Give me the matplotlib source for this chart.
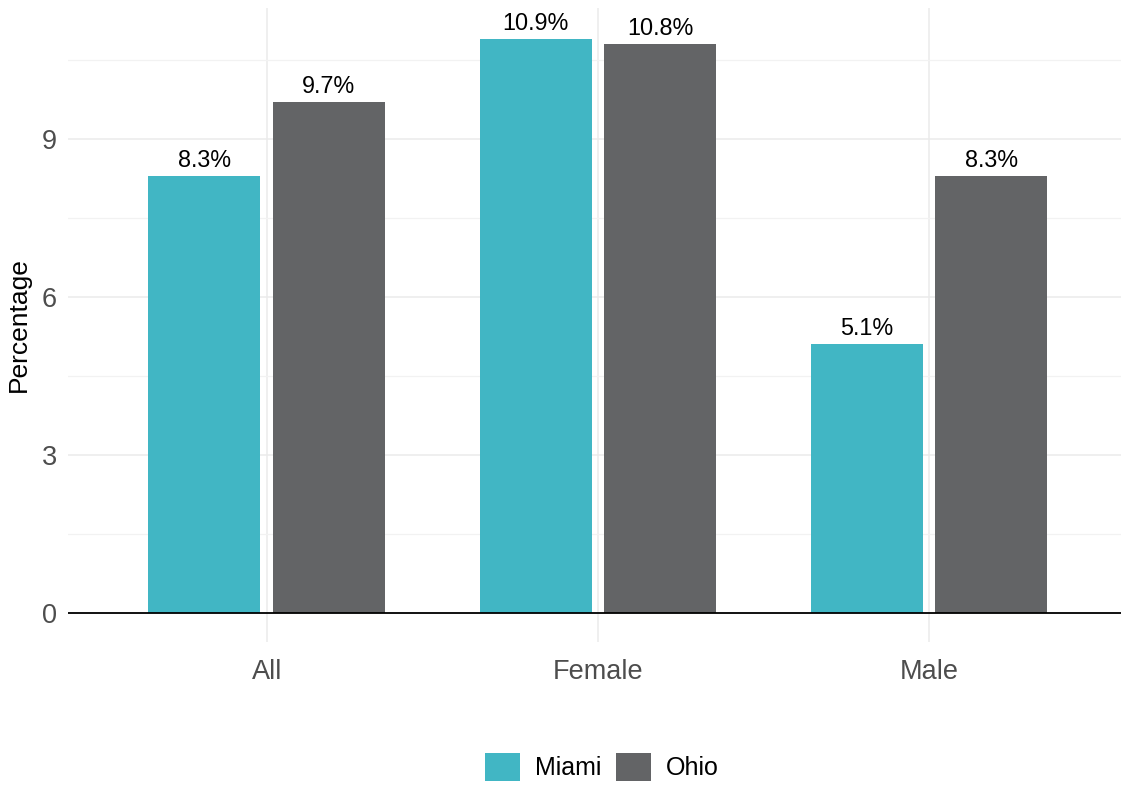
import numpy as np
import matplotlib.pyplot as plt
from matplotlib.patches import Patch

plt.rcParams['font.family'] = ['Liberation Sans', 'DejaVu Sans']

categories = ['All', 'Female', 'Male']
miami = [8.3, 10.9, 5.1]
ohio = [9.7, 10.8, 8.3]
series_names = ['Miami', 'Ohio']
colors = ['#41b6c4', '#636466']

fig = plt.figure(figsize=(11.21, 7.85), dpi=100)
ax = fig.add_axes([68/1121, 1-642/785, 1-68/1121, (642-8)/785])

x = np.arange(len(categories))
w = 0.338
off = 0.188
ax.bar(x - off, miami, w, color=colors[0], zorder=3)
ax.bar(x + off, ohio, w, color=colors[1], zorder=3)

for xi, v in zip(x - off, miami):
    ax.text(xi, v + 0.08, f'{v:.1f}%', ha='center', va='bottom', fontsize=16.8, color='black', zorder=4)
for xi, v in zip(x + off, ohio):
    ax.text(xi, v + 0.08, f'{v:.1f}%', ha='center', va='bottom', fontsize=16.8, color='black', zorder=4)

ax.set_xlim(-0.6, 2.58)
ax.set_ylim(-0.55, 11.49)
ax.axhline(0, color='black', lw=1.3, zorder=5)

ax.set_yticks([0, 3, 6, 9])
ax.set_yticks([1.5, 4.5, 7.5, 10.5], minor=True)
ax.set_xticks(x)
ax.set_xticklabels(categories)
ax.grid(True, which='major', color='#ebebeb', lw=1.1, zorder=0)
ax.grid(True, which='minor', axis='y', color='#f2f2f2', lw=0.9, zorder=0)
ax.tick_params(axis='both', which='both', length=0, labelsize=19.5, labelcolor='#4d4d4d')
ax.tick_params(axis='x', pad=12)
ax.tick_params(axis='y', pad=8)
for s in ax.spines.values():
    s.set_visible(False)
ax.set_ylabel('Percentage', fontsize=19, color='black', labelpad=8)

handles = [Patch(facecolor=c, edgecolor='none') for c in colors]
fig.legend(handles, series_names, loc='center', bbox_to_anchor=(0.537, 1-767/785), ncol=2,
           frameon=False, fontsize=18, handlelength=1.4, handleheight=1.4,
           handletextpad=0.6, columnspacing=0.6)

fig.savefig('out.png', dpi=100)
